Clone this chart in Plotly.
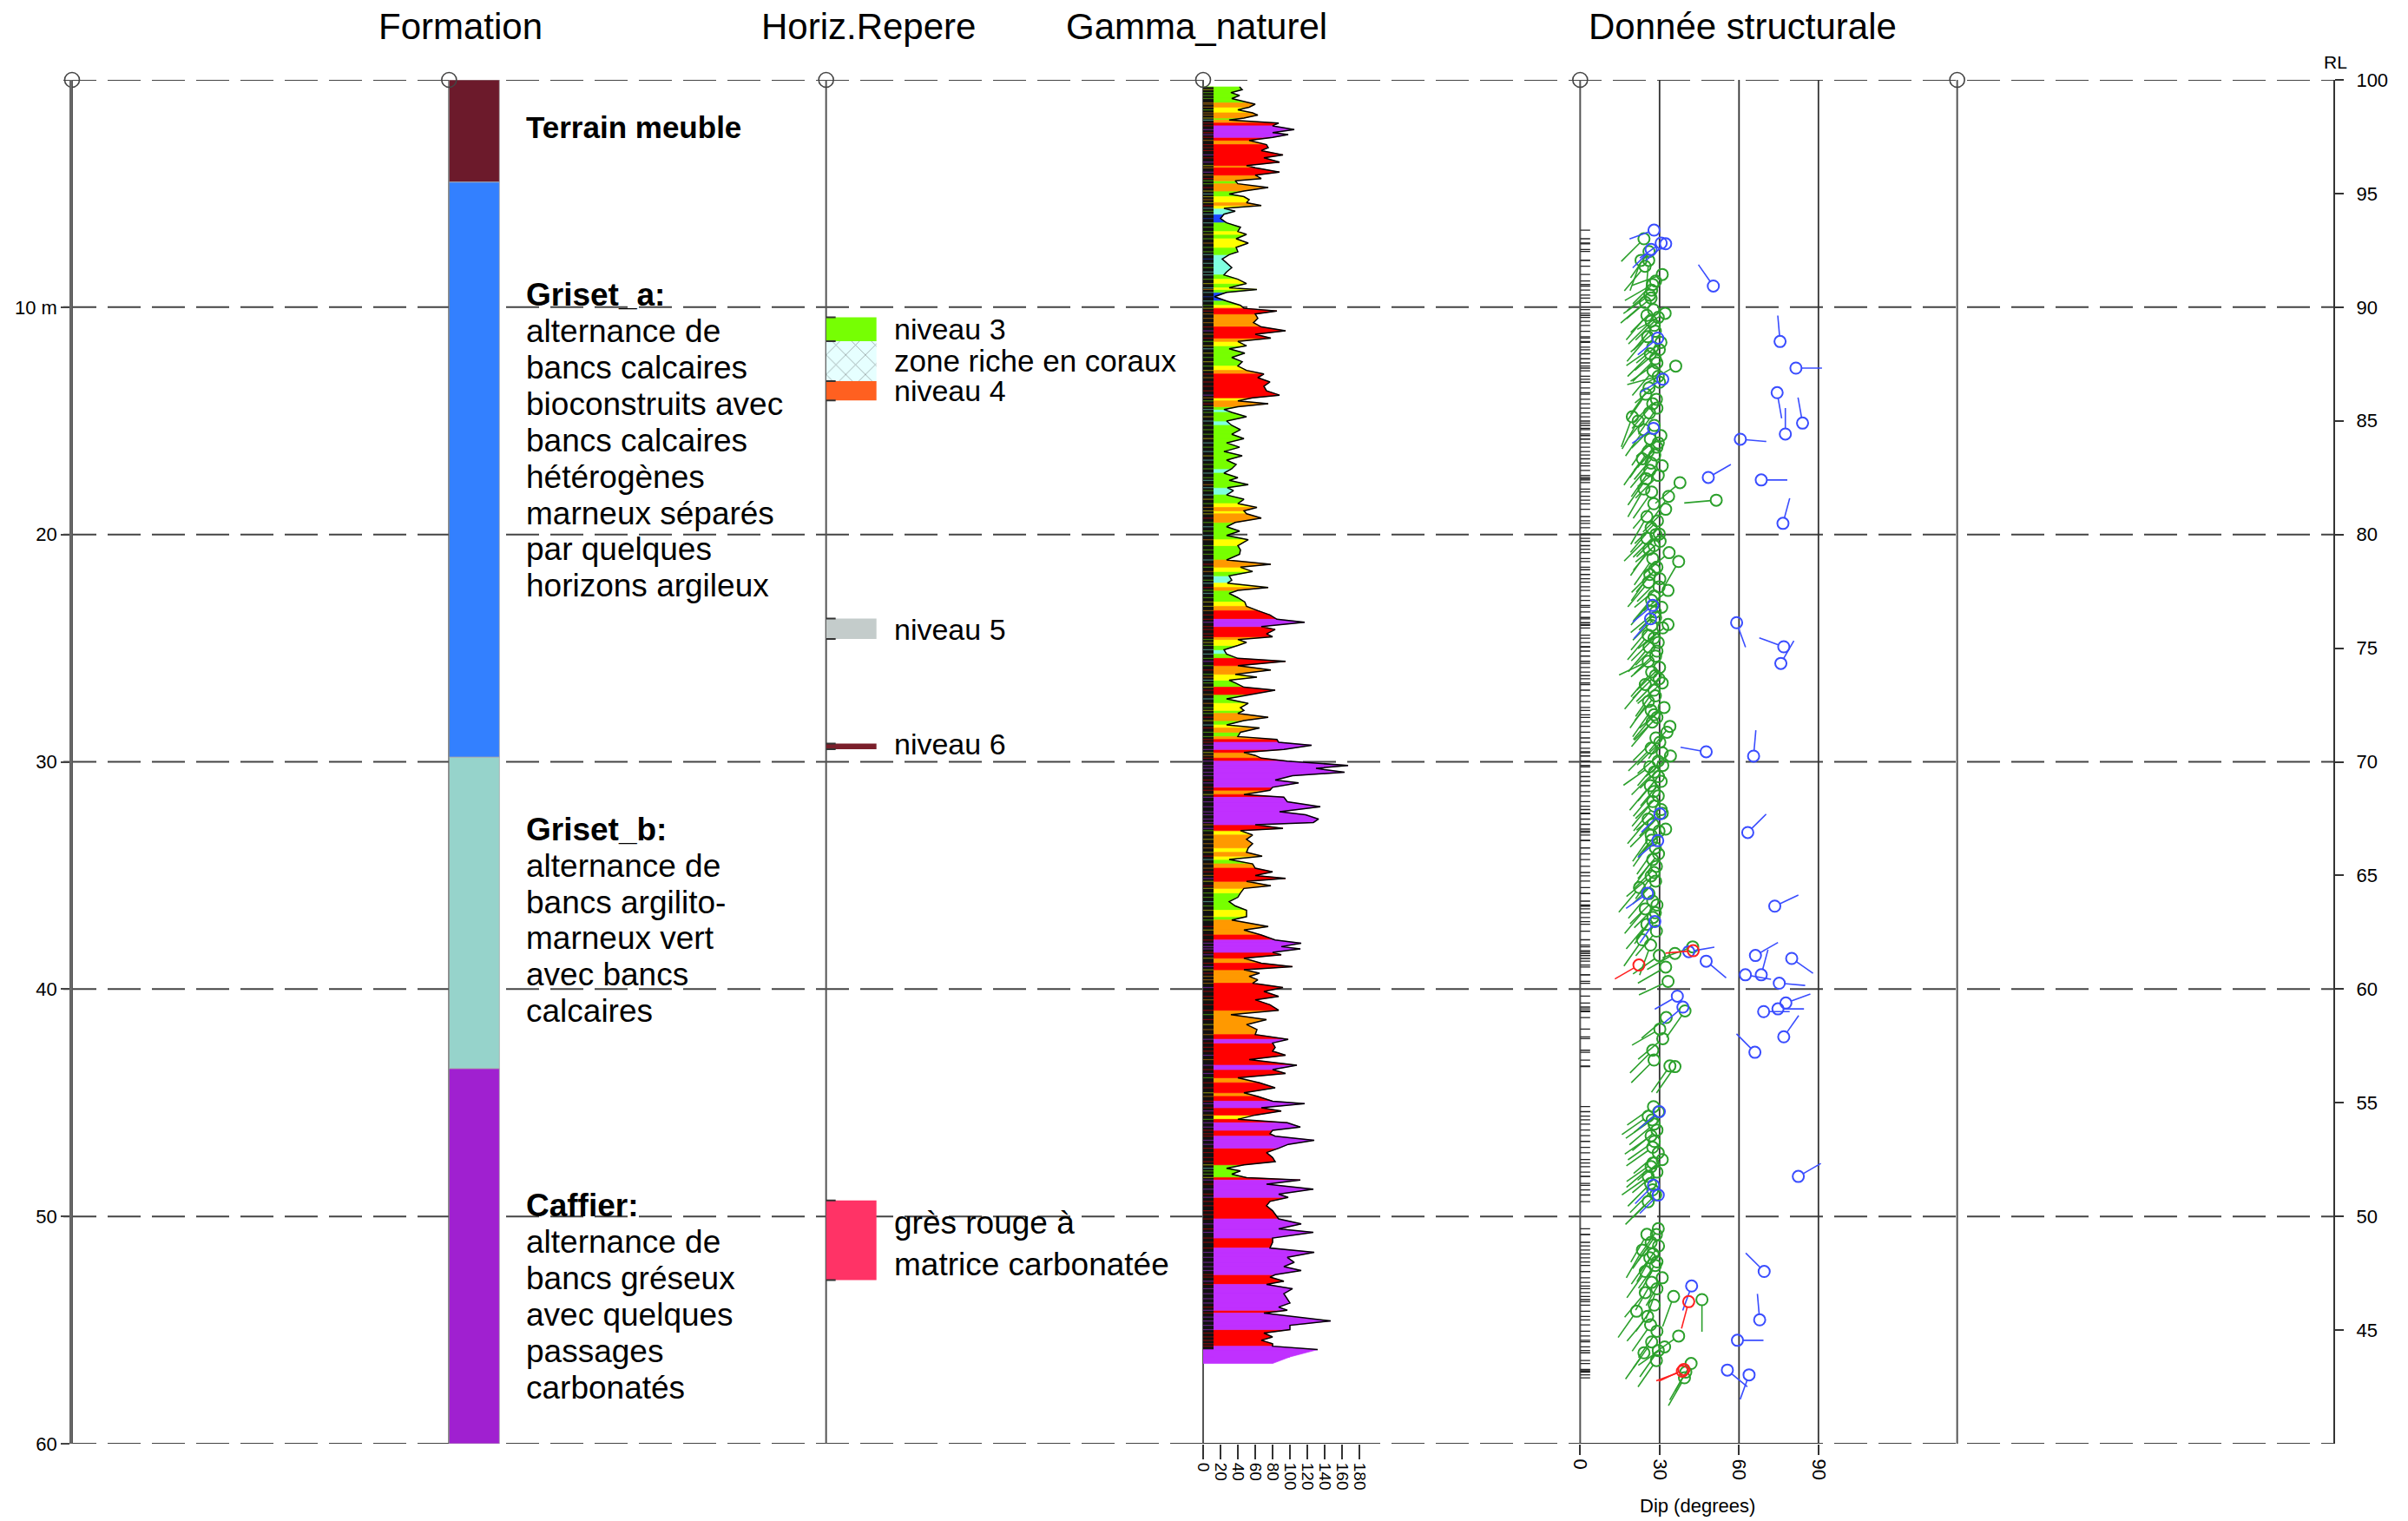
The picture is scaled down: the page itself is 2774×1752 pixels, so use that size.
import math
import plotly.graph_objects as go

# ---------------------------------------------------------------- geometry
W, H = 2774, 1752
ML, MR, MT, MB = 83, 85, 92, 89
PW, PH = W - ML - MR, H - MT - MB
NT = 6
TW = PW / NT
DEPTH_MAX = 60
PX_M = PH / DEPTH_MAX
GAMMA_MAX = TW / 1.0      # gamma track : 1 px per unit
DIP_MAX = TW / 3.05       # dip track : 3.05 px per degree
PX_DEG = TW / DIP_MAX
FONT = "Liberation Sans, Arial, Helvetica, sans-serif"

# ---------------------------------------------------------------- data
depth_grid = [0, 10, 20, 30, 40, 50, 60]
depth_ticks = [10, 20, 30, 40, 50, 60]
depth_ticktext = ["10 m", "20", "30", "40", "50", "60"]
rl_ticks = [45, 50, 55, 60, 65, 70, 75, 80, 85, 90, 95, 100]
rl_range = [40, 100]
gamma_ticks = [0, 20, 40, 60, 80, 100, 120, 140, 160, 180]
dip_ticks = [0, 30, 60, 90]

track_titles = ["Formation", "Horiz.Repere", "Gamma_naturel", "Donnée structurale"]

formation_top = [0.0, 4.5, 29.8, 43.5]
formation_base = [4.5, 29.8, 43.5, 60.0]
formation_colors = ["#6C1A2B", "#3380FF", "#96D3CB", "#A020D0"]
formation_label_depth = [2.09, 9.46, 32.97, 49.53]
formation_labels = [
    ["<b>Terrain meuble</b>"],
    ["<b>Griset_a:</b>", "alternance de", "bancs calcaires", "bioconstruits avec",
     "bancs calcaires", "hétérogènes", "marneux séparés", "par quelques",
     "horizons argileux"],
    ["<b>Griset_b:</b>", "alternance de", "bancs argilito-", "marneux vert",
     "avec bancs", "calcaires"],
    ["<b>Caffier:</b>", "alternance de", "bancs gréseux", "avec quelques",
     "passages", "carbonatés"],
]

horiz_names = ["niveau 3", "zone riche en coraux", "niveau 4", "niveau 5", "niveau 6",
               "grès rouge à<br>matrice carbonatée"]
horiz_top = [10.45, 11.5, 13.25, 23.7, 29.2, 49.3]
horiz_base = [11.5, 13.25, 14.1, 24.6, 29.45, 52.8]
horiz_colors = ["#76FF03", "#E6FFFF", "#FF6020", "#C4CCCB", "#7A1F2B", "#FF3366"]
horiz_pattern = ["", "x", "", "", "", ""]
horiz_label_depth = [10.96, 12.34, 13.66, 24.16, 29.2, 51.2]
horiz_label_size = [34, 35, 34, 34, 34, 37]

gamma_depth = [
    0.31, 0.43, 0.56, 0.69, 0.82, 1.01, 1.07, 1.20, 1.32, 1.45, 1.55, 1.68, 1.77, 1.90,
    2.02, 2.19, 2.32, 2.41, 2.53, 2.66, 2.85, 2.98, 3.11, 3.30, 3.43, 3.62, 3.77, 3.87,
    4.06, 4.19, 4.34, 4.44, 4.57, 4.74, 4.89, 5.02, 5.14, 5.27, 5.40, 5.53, 5.65, 5.78,
    5.91, 6.10, 6.29, 6.48, 6.67, 6.80, 6.99, 7.18, 7.37, 7.56, 7.69, 7.88, 8.07, 8.26,
    8.45, 8.58, 8.77, 8.96, 9.15, 9.22, 9.35, 9.54, 9.73, 9.92, 10.05, 10.17, 10.30,
    10.49, 10.68, 10.87, 11.04, 11.19, 11.36, 11.51, 11.70, 11.83, 12.02, 12.21, 12.40,
    12.59, 12.78, 12.94, 13.10, 13.29, 13.48, 13.68, 13.87, 13.99, 14.12, 14.25, 14.38,
    14.50, 14.63, 14.82, 15.01, 15.20, 15.39, 15.59, 15.78, 15.97, 16.16, 16.35, 16.54,
    16.73, 16.92, 17.11, 17.30, 17.50, 17.62, 17.81,
    17.94, 18.07, 18.26, 18.45, 18.64, 18.81, 18.96, 19.09, 19.28, 19.47, 19.66, 19.85,
    20.04, 20.23, 20.49, 20.68, 20.87, 21.12, 21.31, 21.44, 21.63, 21.82, 22.01, 22.14,
    22.33, 22.46, 22.59, 22.78, 22.97, 23.16, 23.35, 23.54, 23.73, 23.86, 24.05, 24.18,
    24.37, 24.50, 24.62, 24.75, 24.88, 25.07, 25.26, 25.45, 25.58, 25.77, 25.96, 26.15,
    26.28, 26.41, 26.53, 26.72, 26.85, 27.04, 27.23, 27.43, 27.62, 27.74, 27.87, 28.04,
    28.19, 28.38, 28.51, 28.70, 28.89, 29.02, 29.14, 29.27, 29.46, 29.59, 29.72, 29.84,
    29.97, 30.16, 30.29, 30.46, 30.61, 30.80, 30.93, 31.12, 31.25, 31.44, 31.56, 31.76,
    31.98, 32.20, 32.33, 32.52, 32.67, 32.77, 32.93, 33.03, 33.22, 33.41, 33.60, 33.79,
    33.98, 34.15, 34.30, 34.49, 34.68, 34.84, 35.00, 35.13, 35.26, 35.45, 35.57, 35.77,
    35.96, 36.15, 36.34, 36.53,
    36.81, 36.96, 37.25, 37.40, 37.62, 37.84, 37.98, 38.13, 38.23, 38.38, 38.49, 38.64,
    38.86, 39.01, 39.15, 39.30, 39.44, 39.59, 39.74, 39.93, 40.10, 40.32, 40.47, 40.69,
    40.93, 41.12, 41.34, 41.56, 41.78, 42.00, 42.21, 42.37, 42.56, 42.73, 42.91, 43.10,
    43.35, 43.54, 43.71, 43.90, 44.12, 44.34, 44.56, 44.72, 44.93, 45.04, 45.22, 45.36,
    45.54, 45.73, 45.88, 46.07, 46.21, 46.36, 46.47, 46.65, 46.83, 47.00, 47.19, 47.41,
    47.59, 47.73, 47.88, 48.00, 48.14, 48.29, 48.40, 48.58, 48.80, 49.02, 49.16, 49.34,
    49.53, 49.75, 49.92, 50.11, 50.33, 50.55, 50.70, 50.95, 51.14, 51.39, 51.58, 51.80,
    52.02, 52.21, 52.38, 52.56, 52.67, 52.85, 52.99, 53.18, 53.40, 53.62, 53.81, 53.99,
    54.13, 54.25, 54.43, 54.60, 54.79, 54.98, 55.13, 55.30, 55.45, 55.60, 55.71, 55.86,
    56.18, 56.47,
]
gamma_value = [
    42, 45, 32, 42, 33, 52, 60, 53, 40, 57, 63, 47, 30, 87,
    80, 105, 80, 98, 80, 53, 73, 75, 67, 92, 70, 88, 50, 60,
    88, 60, 67, 37, 40, 75, 47, 30, 47, 53, 50, 67, 24, 37,
    24, 20, 27, 43, 40, 50, 38, 52, 38, 40, 30, 22, 27, 33,
    27, 24, 40, 50, 30, 62, 27, 13, 27, 43, 47, 85, 60,
    63, 58, 67, 95, 60, 78, 40, 50, 30, 48, 33, 45,
    40, 50, 70, 63, 77, 70, 73, 88, 57, 40, 75, 40,
    24, 33, 50, 27, 33, 43, 33, 47, 27, 42, 24, 45,
    27, 38, 33, 24, 40, 30, 52,
    28, 35, 27, 47, 40, 62, 47, 50, 67, 37, 27, 42,
    27, 52, 40, 43, 42, 27, 78, 43, 57, 30, 33, 28,
    75, 40, 30, 40, 48, 50, 63, 77, 85, 117, 67, 83,
    73, 80, 40, 50, 40, 24, 27, 40, 95, 40, 78, 37,
    62, 30, 37, 47, 83, 53, 27, 52, 43, 47, 40, 75,
    47, 27, 65, 43, 40, 85, 87, 125, 93, 47, 60, 67,
    97, 167, 130, 163, 103, 83, 110, 80, 77, 47, 93, 97,
    135, 88, 118, 133, 127, 60, 92, 43, 57, 50, 57, 52,
    50, 68, 30, 57, 60, 80, 60, 95, 50, 78, 47, 43,
    40, 30, 37, 50,
    50, 33, 75, 47, 67, 83, 113, 90, 112, 80, 90, 47,
    67, 103, 47, 65, 53, 63, 57, 92, 70, 87, 60, 77,
    87, 32, 73, 50, 62, 60, 98, 80, 83, 80, 95, 53,
    108, 80, 95, 40, 65, 83, 47, 63, 80, 117, 67, 90,
    60, 40, 97, 112, 80, 77, 83, 128, 98, 87, 73, 80,
    83, 47, 27, 43, 33, 50, 112, 73, 127, 87, 98, 77,
    73, 80, 83, 87, 113, 87, 127, 80, 80, 77, 128, 97,
    105, 93, 113, 83, 77, 93, 73, 103, 93, 97, 100, 87,
    97, 70, 107, 147, 100, 100, 70, 80, 67, 80, 80, 132,
    100, 80,
]
gamma_class_limits = [24, 32, 45, 52, 65, 88]
gamma_class_colors = ["#1A44FF", "#7FFFE0", "#77FF00", "#FFFF00", "#FF9900", "#FF0000", "#C030FF"]

green_depth = [
    6.99, 7.94, 7.94, 8.56, 9.00, 9.47, 9.60, 9.79, 10.11, 10.27, 10.36, 10.62, 11.06,
    11.76, 11.87, 12.27, 12.59, 13.04, 13.83, 14.25, 14.44, 14.82, 15.01, 15.39, 15.97,
    16.16, 16.35, 16.67, 16.86, 16.98, 17.18, 18.00, 18.13, 17.72, 18.32, 18.49, 18.89,
    19.21, 19.98, 20.17, 20.49, 20.80, 21.19, 21.06, 21.44, 21.76, 21.95, 22.46, 22.71,
    23.41, 23.96, 24.11, 24.43, 24.56, 25.13, 25.58, 26.21, 26.60, 26.53, 26.85, 27.74,
    27.61, 27.93, 28.44, 28.70, 29.14, 29.40, 29.74, 29.97, 30.22, 30.16, 30.86, 31.31,
    31.75, 32.26, 32.52, 32.96, 33.22, 33.79, 34.30, 34.87,
    35.02, 35.53, 36.13, 36.47, 36.64, 37.15, 37.83, 38.06, 38.52, 38.43, 38.14, 39.03,
    39.66, 40.96, 41.25, 41.76, 42.18, 42.69, 43.12, 43.38, 43.41, 45.17, 45.59, 45.94,
    46.45, 46.96, 47.50, 47.81, 48.24, 48.83, 49.35, 50.54, 50.79, 51.14, 51.48, 51.82,
    52.16, 52.70, 52.42, 53.18, 53.52, 53.35, 54.17, 54.77, 53.66, 55.26, 55.52, 55.74,
    56.00, 56.34, 56.47, 56.85, 57.10,
    7.55, 8.20, 8.85, 9.25, 10.45, 10.80, 11.30, 11.55, 12.05, 12.45, 12.80, 13.30,
    13.55, 14.05, 14.65, 15.20, 15.65, 15.80, 16.50, 17.40, 17.55, 18.65, 19.40, 19.70,
    20.00, 20.30, 20.65, 21.55, 22.10, 22.30, 22.90, 23.20, 23.65, 24.00, 24.75, 24.95,
    25.35, 25.85, 26.05, 26.35, 27.10, 27.35, 28.05, 28.25, 28.95, 29.60, 30.45, 30.65,
    31.05, 31.50, 31.95, 32.10, 32.75, 33.05, 33.45, 34.05, 34.60, 35.25, 35.80, 36.30,
    36.85, 37.45, 45.40, 45.75, 46.20, 46.70, 47.20, 47.65, 48.05, 48.55, 49.05, 50.80,
    51.30, 51.65, 52.00, 52.90, 53.90, 54.40, 55.05, 55.90,
]
green_dip = [
    24.1, 23.0, 25.9, 31.0, 27.4, 26.3, 26.8, 24.6, 27.7, 32.1, 25.2, 26.8, 28.4,
    27.4, 29.9, 28.4, 36.1, 29.5, 24.8, 27.4, 29.0, 19.7, 21.9, 24.1, 29.5,
    29.0, 25.7, 23.5, 26.8, 31.0, 26.3, 24.1, 27.0, 37.7, 33.4, 51.4, 32.3,
    25.2, 29.9, 25.2, 27.9, 33.6, 37.2, 27.4, 29.0, 26.3, 30.1, 33.2, 27.9,
    28.4, 33.2, 31.2, 25.7, 27.9, 29.0, 25.7, 28.4, 24.6, 31.0, 27.9, 26.8,
    31.7, 27.9, 33.9, 32.8, 30.1, 26.8, 34.1, 29.5, 26.3, 31.2, 30.6, 27.9,
    27.4, 31.0, 25.7, 32.3, 26.8, 28.4, 27.4, 27.9,
    26.8, 22.4, 27.4, 24.6, 28.4, 25.2, 23.5, 26.6, 29.9, 35.8, 42.5, 32.3,
    33.2, 39.6, 32.5, 30.1, 31.2, 27.4, 27.9, 33.9, 35.8, 27.7, 25.7, 27.9,
    26.8, 27.4, 31.0, 26.8, 25.7, 27.4, 25.7, 29.5, 25.2, 26.8, 23.5, 26.3,
    28.4, 31.0, 24.6, 29.0, 35.3, 24.6, 21.3, 26.6, 46.0, 37.2, 27.0, 31.9,
    24.1, 28.8, 41.9, 39.9, 39.4,
    26.0, 24.5, 28.5, 27.0, 29.5, 28.0, 25.5, 30.5, 26.5, 29.0, 27.5, 30.0,
    26.0, 28.8, 26.2, 28.0, 30.5, 26.5, 28.2, 29.5, 25.0, 27.8, 29.2, 26.8,
    28.6, 30.2, 26.0, 28.0, 25.8, 29.8, 27.0, 30.8, 28.5, 27.0, 29.5, 26.0,
    28.5, 30.0, 27.0, 29.8, 28.4, 25.8, 29.0, 27.2, 28.6, 31.0, 28.0, 29.6,
    26.5, 29.5, 28.0, 30.6, 27.5, 29.8, 27.0, 29.6, 28.8, 28.5, 26.0, 29.0,
    27.5, 28.8, 29.6, 27.2, 29.0, 28.0, 29.5, 27.5, 29.0, 26.6, 28.5, 28.8,
    29.6, 27.5, 29.0, 27.0, 28.0, 25.5, 29.0, 29.5,
]
green_azimuth = [
    225, 200, 185, 250, 240, 235, 230, 230, 225, 240, 220, 225, 230,
    235, 230, 225, 240, 255, 215, 220, 215, 200, 210, 215, 220,
    225, 215, 215, 220, 230, 215, 210, 215, 230, 215, 265, 225,
    210, 225, 225, 220, 230, 210, 215, 220, 215, 225, 230, 220,
    230, 230, 230, 220, 225, 225, 245, 225, 220, 230, 215, 215,
    230, 220, 220, 215, 225, 225, 230, 220, 235, 225, 220, 220,
    220, 225, 220, 225, 215, 215, 215, 215,
    230, 220, 225, 220, 215, 220, 215, 200, 235, 240, 250, 240,
    245, 215, 230, 240, 230, 225, 225, 215, 215, 235, 235, 230,
    235, 235, 230, 230, 235, 225, 225, 215, 210, 215, 210, 215,
    210, 210, 215, 200, 200, 220, 215, 215, 180, 235, 215, 235,
    215, 215, 210, 210, 210,
    215, 220, 225, 230, 225, 220, 220, 230, 225, 235, 220, 230,
    215, 225, 220, 225, 230, 215, 220, 225, 215, 220, 225, 220,
    225, 230, 215, 225, 220, 230, 220, 225, 225, 220, 225, 220,
    230, 225, 220, 225, 220, 215, 225, 220, 225, 230, 225, 220,
    220, 225, 220, 230, 225, 220, 215, 220, 225, 225, 220, 225,
    215, 220, 230, 235, 230, 235, 230, 235, 230, 225, 225, 215,
    215, 210, 215, 210, 215, 220, 215, 215,
]

blue_depth = [
    6.61, 7.18, 7.21, 7.46, 9.07, 11.51, 12.68, 13.76, 15.10, 15.58, 15.81, 17.49, 17.60,
    19.51, 11.36, 13.17, 15.33, 23.12, 23.71, 23.88, 24.94, 25.67, 29.56, 29.75, 33.11,
    32.29, 33.47, 36.35, 35.79, 37.03, 38.52, 38.65, 38.35, 38.77, 39.37, 39.37, 39.74,
    40.61, 40.87, 40.99, 40.31, 40.79, 42.10, 42.78, 45.39, 48.24, 48.63, 49.06, 52.42,
    53.06, 54.55, 55.45, 56.76, 56.97,
]
blue_dip = [
    27.9, 30.6, 32.3, 26.8, 50.3, 75.5, 81.5, 74.4, 84.0, 77.5, 60.5, 48.4, 68.4,
    76.6, 29.3, 31.2, 27.7, 27.4, 26.6, 59.1, 76.9, 75.8, 47.6, 65.5, 63.3,
    30.1, 29.3, 73.5, 25.4, 28.2, 66.2, 79.9, 41.0, 47.6, 62.4, 68.4, 75.2,
    77.7, 74.7, 69.3, 36.7, 38.8, 76.9, 66.0, 29.9, 82.4, 27.7, 29.5, 69.5,
    42.1, 67.8, 59.4, 55.6, 63.8,
]
blue_azimuth = [
    250, 235, 230, 225, 325, 355, 90, 170, 350, 0, 95, 60, 90,
    15, 230, 240, 235, 230, 220, 160, 290, 30, 280, 5, 45,
    225, 230, 65, 235, 215, 60, 125, 80, 130, 100, 15, 95,
    70, 90, 90, 240, 230, 35, 315, 230, 60, 225, 225, 315,
    200, 355, 90, 130, 200,
]

red_depth = [38.94, 38.31, 53.75, 56.73, 56.81]
red_dip = [22.2, 42.7, 41.0, 39.2, 38.6]
red_azimuth = [240, 265, 195, 245, 250]

# ---------------------------------------------------------------- helpers
def px_x(px):
    return (px - ML) / PW


def px_y(py):
    return (H - MB - py) / PH


def gamma_color(v):
    for lim, col in zip(gamma_class_limits, gamma_class_colors):
        if v < lim:
            return col
    return gamma_class_colors[-1]


traces = []

# ---------------------------------------------------------------- Formation track
BAR_W = 58
traces.append(go.Bar(
    x=[BAR_W / 2] * len(formation_top),
    y=[b - t for t, b in zip(formation_top, formation_base)],
    base=formation_top, width=[BAR_W] * len(formation_top),
    marker=dict(color=formation_colors, line=dict(color="rgba(170,170,170,0.8)", width=1)),
    xaxis="x2", yaxis="y", hoverinfo="skip"))

# ---------------------------------------------------------------- Horizon track
traces.append(go.Bar(
    x=[BAR_W / 2] * len(horiz_top),
    y=[b - t for t, b in zip(horiz_top, horiz_base)],
    base=horiz_top, width=[BAR_W] * len(horiz_top),
    marker=dict(color=horiz_colors, line=dict(width=0),
                pattern=dict(shape=horiz_pattern, fgcolor="#8FE3F0",
                             bgcolor="#E8FFFF", size=16, solidity=0.1)),
    xaxis="x3", yaxis="y", hoverinfo="skip"))
tx, ty = [], []
for t, b, pat in zip(horiz_top, horiz_base, horiz_pattern):
    if pat:
        continue
    for d in (t, b):
        tx += [0, 11, None]
        ty += [d, d, None]
traces.append(go.Scatter(x=tx, y=ty, mode="lines", line=dict(color="#333", width=2),
                         xaxis="x3", yaxis="y", hoverinfo="skip"))

# ---------------------------------------------------------------- Gamma track
groups = {c: ([], []) for c in gamma_class_colors}
streaks = {c: ([], []) for c in gamma_class_colors}
STRIP_W = 12
for i in range(len(gamma_depth) - 1):
    d0, d1 = gamma_depth[i], gamma_depth[i + 1]
    v0, v1 = gamma_value[i], gamma_value[i + 1]
    c = gamma_color((v0 + v1) / 2)
    xs, ys = groups[c]
    xs += [0, v0, v1, 0, 0, None]
    ys += [d0, d0, d1, d1, d0, None]
    sx, sy = streaks[gamma_color(v0)]
    sx += [0, STRIP_W, None]
    sy += [d0, d0, None]
for c, (xs, ys) in groups.items():
    if xs:
        traces.append(go.Scatter(x=xs, y=ys, mode="lines", fill="toself", fillcolor=c,
                                 line=dict(color=c, width=0.7), xaxis="x4", yaxis="y",
                                 hoverinfo="skip"))
strip_top, strip_bot = gamma_depth[0], gamma_depth[-3]
traces.append(go.Scatter(x=[0, STRIP_W, STRIP_W, 0, 0],
                         y=[strip_top, strip_top, strip_bot, strip_bot, strip_top],
                         mode="lines", fill="toself", fillcolor="#111111",
                         line=dict(width=0), xaxis="x4", yaxis="y", hoverinfo="skip"))
for c, (xs, ys) in streaks.items():
    if xs:
        traces.append(go.Scatter(x=xs, y=ys, mode="lines", opacity=0.45,
                                 line=dict(color=c, width=1.2), xaxis="x4", yaxis="y",
                                 hoverinfo="skip"))
traces.append(go.Scatter(x=gamma_value[:-2], y=gamma_depth[:-2], mode="lines",
                         line=dict(color="black", width=1.5), xaxis="x4", yaxis="y",
                         hoverinfo="skip"))

# ---------------------------------------------------------------- Structural track
RUG_PX = 11.5
rx, ry = [], []
for d in green_depth + blue_depth + red_depth:
    rx += [0, RUG_PX / PX_DEG, None]
    ry += [d, d, None]
traces.append(go.Scatter(x=rx, y=ry, mode="lines", line=dict(color="#222", width=1.3),
                         xaxis="x5", yaxis="y", hoverinfo="skip"))

HEAD_R = 6


def tadpoles(depths, dips, azis, color, tail_px):
    xs, ys = [], []
    for d, p, a in zip(depths, dips, azis):
        r = math.radians(a)
        sx, sy = math.sin(r), -math.cos(r)
        xs += [p + HEAD_R * sx / PX_DEG, p + tail_px * sx / PX_DEG, None]
        ys += [d + HEAD_R * sy / PX_M, d + tail_px * sy / PX_M, None]
    return [
        go.Scatter(x=xs, y=ys, mode="lines", line=dict(color=color, width=1.6),
                   xaxis="x5", yaxis="y", hoverinfo="skip"),
        go.Scatter(x=dips, y=depths, mode="markers",
                   marker=dict(symbol="circle-open", size=13, color=color,
                               line=dict(color=color, width=2)),
                   xaxis="x5", yaxis="y", hoverinfo="skip"),
    ]


traces += tadpoles(green_depth, green_dip, green_azimuth, "#2CA02C", 37)
traces += tadpoles(blue_depth, blue_dip, blue_azimuth, "#3A4DFF", 30)
traces += tadpoles(red_depth, red_dip, red_azimuth, "#FF2020", 32)

# ---------------------------------------------------------------- top circles
axis_ids = ["x", "x2", "x3", "x4", "x5", "x6"]
for ax in axis_ids:
    traces.append(go.Scatter(x=[0], y=[0], mode="markers", cliponaxis=False,
                             marker=dict(symbol="circle-open", size=17, color="#444",
                                         line=dict(color="#444", width=1.6)),
                             xaxis=ax, yaxis="y", hoverinfo="skip"))
traces.append(go.Scatter(x=[None], y=[None], xaxis="x6", yaxis="y2", hoverinfo="skip"))

fig = go.Figure(traces)

# ---------------------------------------------------------------- layout
axis_max = [TW, TW, TW, GAMMA_MAX, DIP_MAX, TW]
layout = dict(
    width=W, height=H, margin=dict(l=ML, r=MR, t=MT, b=MB, pad=0),
    paper_bgcolor="white", plot_bgcolor="white", showlegend=False, barmode="overlay",
    font=dict(family=FONT, color="black"),
    yaxis=dict(range=[DEPTH_MAX, 0], domain=[0, 1], anchor="x", tickvals=depth_ticks,
               ticktext=depth_ticktext, ticks="outside", ticklen=10, tickwidth=2,
               tickcolor="#444", showline=True, linecolor="#666", linewidth=2.5,
               showgrid=False, zeroline=False, tickfont=dict(size=22, family=FONT),
               automargin=False),
    yaxis2=dict(range=rl_range, overlaying="y", side="right", anchor="free", position=1,
                tickvals=rl_ticks, ticks="outside", ticklen=10, tickwidth=2,
                tickcolor="#333", showline=True, linecolor="#333", linewidth=2,
                showgrid=False, zeroline=False, tickfont=dict(size=22, family=FONT),
                ticklabelstandoff=10, automargin=False),
)
for i, ax in enumerate(axis_ids):
    key = "xaxis" if i == 0 else f"xaxis{i + 1}"
    layout[key] = dict(domain=[i / NT, (i + 1) / NT], anchor="y", range=[0, axis_max[i]],
                       showgrid=False, zeroline=False, showline=False,
                       showticklabels=False, ticks="", automargin=False, fixedrange=True)
layout["xaxis4"].update(tickvals=gamma_ticks, ticks="outside", ticklen=17, tickwidth=1.5,
                        tickcolor="#333", showticklabels=True, tickangle=90,
                        tickfont=dict(size=19, family=FONT))
layout["xaxis5"].update(tickvals=dip_ticks, ticks="outside", ticklen=12, tickwidth=1.5,
                        tickcolor="#333", showticklabels=True, tickangle=90,
                        tickfont=dict(size=22, family=FONT))
fig.update_layout(**layout)

# ---------------------------------------------------------------- shapes
shapes = []
for d in depth_grid:
    shapes.append(dict(type="line", xref="paper", yref="y", x0=px_x(73), x1=1, y0=d, y1=d,
                       line=dict(color="#444", width=2, dash="38px,13px"), layer="below"))
for i in range(NT + 1):
    shapes.append(dict(type="line", xref="paper", yref="y", x0=i / NT, x1=i / NT,
                       y0=0, y1=DEPTH_MAX, line=dict(color="#555", width=2), layer="below"))
for g in dip_ticks[1:]:
    shapes.append(dict(type="line", xref="x5", yref="y", x0=g, x1=g, y0=0, y1=DEPTH_MAX,
                       line=dict(color="#333", width=1.8), layer="below"))
shapes.append(dict(type="line", xref="x4", yref="y", x0=gamma_ticks[0], x1=gamma_ticks[-1],
                   y0=DEPTH_MAX, y1=DEPTH_MAX, line=dict(color="#333", width=2)))
shapes.append(dict(type="line", xref="x5", yref="y", x0=dip_ticks[0], x1=dip_ticks[-1],
                   y0=DEPTH_MAX, y1=DEPTH_MAX, line=dict(color="#333", width=2)))
fig.update_layout(shapes=shapes)

# ---------------------------------------------------------------- annotations
ann = []
title_px = [530, 1000, 1378, 2008]
for t, xp in zip(track_titles, title_px):
    ann.append(dict(text=t, xref="paper", yref="paper", x=px_x(xp), y=px_y(30),
                    showarrow=False, xanchor="center", yanchor="middle",
                    font=dict(size=42, family=FONT, color="black")))
ann.append(dict(text="RL", xref="paper", yref="paper", x=px_x(2690), y=px_y(72),
                showarrow=False, xanchor="center", yanchor="middle",
                font=dict(size=21, family=FONT)))
ann.append(dict(text="Dip (degrees)", xref="paper", yref="paper", x=px_x(1955), y=px_y(1734),
                showarrow=False, xanchor="center", yanchor="middle",
                font=dict(size=22, family=FONT)))
LINE_STEP = 1.6
for d0, lines in zip(formation_label_depth, formation_labels):
    for k, line in enumerate(lines):
        size = 35 if "Terrain" in line else 37
        ann.append(dict(text=line, xref="x2", yref="y", x=87, y=d0 + k * LINE_STEP,
                        showarrow=False, xanchor="left", yanchor="middle",
                        font=dict(size=size, family=FONT, color="black")))
for name, d, s in zip(horiz_names, horiz_label_depth, horiz_label_size):
    ann.append(dict(text=name, xref="x3", yref="y", x=76, y=d, showarrow=False,
                    xanchor="left", yanchor="middle", align="left",
                    font=dict(size=s, family=FONT, color="black")))
fig.update_layout(annotations=ann)

fig.write_html("out.html", config={"displayModeBar": False},
               post_script="document.body.style.margin='0px';")
